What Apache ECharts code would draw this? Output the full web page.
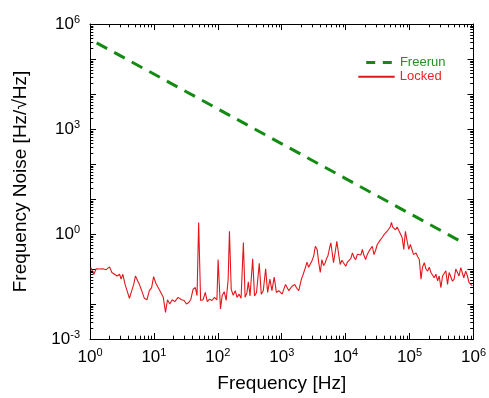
<!DOCTYPE html>
<html><head><meta charset="utf-8">
<script src="https://cdn.jsdelivr.net/npm/echarts@6/dist/echarts.min.js"></script>
<style>html,body{margin:0;padding:0;background:#fff}#c{width:489px;height:398px}</style>
</head><body><div id="c"></div>
<script>
const xTickExponents = [0, 1, 2, 3, 4, 5, 6];
const yTickExponents = [-3, 0, 3, 6];
const freerunFreq = [1.27, 7.48e5];
const freerunNoise = [2.9e5, 0.52];
const lockedFreq = [
  1.03, 1.07, 1.15, 1.25, 1.42, 1.59, 1.79, 2.02, 2.20, 2.42,
  2.66, 2.90, 3.07, 3.26, 3.54, 3.80, 4.14, 4.50, 4.83, 5.14,
  5.58, 5.93, 6.44, 7.09, 7.78, 8.48, 9.21, 9.89, 10.7, 11.4,
  12.4, 14.0, 15.2, 16.3, 17.7, 19.3, 21.2, 23.9, 27.0, 29.7,
  32.3, 35.0, 37.6, 41.0, 44.5, 47.3, 50.1, 53.8, 58.7, 63.7,
  68.4, 74.3, 80.9, 88.8, 96.8, 101, 110, 117, 126, 135,
  145, 152, 162, 174, 187, 200, 215, 231, 251, 267,
  286, 300, 319, 351, 375, 403, 445, 478, 514, 560,
  601, 653, 702, 762, 824, 901, 1014, 1146, 1289, 1435,
  1599, 1718, 1845, 2032, 2168, 2344, 2483, 2638, 2804, 2992,
  3158, 3357, 3580, 3777, 4011, 4249, 4517, 4799, 5027, 5269,
  5600, 5867, 6122, 6461, 6817, 7274, 7727, 8207, 8754, 9242,
  10040, 10670, 11330, 12080, 12760, 13460, 14360, 15260, 16220, 17300,
  18250, 19260, 20540, 21840, 23190, 24740, 26100, 27750, 29590, 31230,
  33190, 35150, 37360, 39690, 42050, 44670, 47130, 49730, 52120, 54430,
  56790, 60100, 63940, 67920, 71920, 76400, 81220, 86040, 91440, 97150,
  102900, 109300, 115400, 126200, 134200, 142000, 150900, 159300, 169900, 180500,
  191900, 203200, 216000, 229400, 243000, 258200, 274600, 290700, 309100, 328400,
  347700, 369400, 392700, 415600, 441800, 469600, 497400, 528600, 562000, 594500,
  632100, 667200, 704200, 756600, 804100, 851800, 903100, 960000
];
const lockedNoise = [
  0.110, 0.120, 0.0708, 0.102, 0.100, 0.102, 0.0955, 0.115, 0.0794, 0.0708,
  0.0631, 0.0708, 0.0513, 0.0708, 0.0363, 0.0398, 0.0145, 0.0240, 0.0363, 0.0631,
  0.0457, 0.0363, 0.0240, 0.0145, 0.0132, 0.0240, 0.0295, 0.0603, 0.0398, 0.0316,
  0.0240, 0.0155, 0.00575, 0.0132, 0.0100, 0.0132, 0.0117, 0.0155, 0.0132, 0.0126,
  0.0100, 0.0110, 0.0132, 0.0263, 0.0295, 0.0174, 2.14, 0.0126, 0.0132, 0.0214,
  0.0117, 0.0138, 0.0126, 0.0155, 0.0132, 0.186, 0.00724, 0.0174, 0.0224, 0.0126,
  0.0501, 1.20, 0.0263, 0.0178, 0.0240, 0.0155, 0.0191, 0.0145, 0.575, 0.0155,
  0.0214, 0.0427, 0.0170, 0.195, 0.0170, 0.0214, 0.145, 0.0191, 0.0240, 0.102,
  0.0214, 0.0513, 0.0240, 0.0589, 0.0214, 0.0240, 0.0191, 0.0363, 0.0240, 0.0316,
  0.0363, 0.0282, 0.0240, 0.0513, 0.0708, 0.110, 0.158, 0.112, 0.120, 0.178,
  0.234, 0.447, 0.363, 0.158, 0.0794, 0.186, 0.126, 0.151, 0.200, 0.234,
  0.398, 0.562, 0.316, 0.151, 0.282, 0.617, 0.282, 0.135, 0.178, 0.151,
  0.120, 0.158, 0.170, 0.200, 0.288, 0.219, 0.186, 0.263, 0.234, 0.251,
  0.363, 0.251, 0.186, 0.263, 0.324, 0.316, 0.447, 0.257, 0.355, 0.501,
  0.562, 0.692, 0.794, 0.955, 1.00, 1.20, 1.12, 1.58, 2.14, 1.58,
  1.66, 1.32, 1.58, 1.26, 1.20, 0.794, 0.363, 1.20, 0.631, 0.363,
  0.501, 0.447, 0.257, 0.288, 0.224, 0.186, 0.0513, 0.112, 0.151, 0.100,
  0.0871, 0.112, 0.0794, 0.0891, 0.0562, 0.0708, 0.0457, 0.0631, 0.0295, 0.0631,
  0.0562, 0.0891, 0.0363, 0.0794, 0.0871, 0.0447, 0.0513, 0.100, 0.110, 0.0631,
  0.110, 0.0794, 0.0562, 0.0871, 0.0631, 0.0407, 0.0447, 0.0331
];

const FONT = 'Liberation Sans, Arial, Helvetica, sans-serif';
const GREEN = '#138b13';
const RED = '#e3161b';

function supLabel(list) {
  return function (value) {
    const e = Math.round(Math.log10(value));
    if (list.indexOf(e) < 0) return '';
    return '{b|10}{s|' + e + '}';
  };
}
const richLabel = {
  b: { fontSize: 17, lineHeight: 20, fontFamily: FONT, color: '#000' },
  s: { fontSize: 11, lineHeight: 8, verticalAlign: 'top', fontFamily: FONT, color: '#000' }
};

const axisLineStyle = { show: true, lineStyle: { color: '#000', width: 1 } };
const majorTick = { show: true, inside: true, length: 6, lineStyle: { color: '#000', width: 1 } };

const chart = echarts.init(document.getElementById('c'), null, { renderer: 'canvas' });

const option = {
  animation: false,
  backgroundColor: '#fff',
  grid: { left: 90, right: 13, top: 24, bottom: 57, containLabel: false },
  legend: [
    {
      data: [{ name: 'Freerun', textStyle: { color: '#1f951f' } }],
      left: 359.7, top: 51, itemWidth: 28.7, itemHeight: 14,
      lineStyle: { type: [9, 7.6], width: 3 },
      itemStyle: { opacity: 0 },
      textStyle: { fontSize: 13, fontFamily: FONT },
      selectedMode: false
    },
    {
      data: [{ name: 'Locked', textStyle: { color: '#e8262a' } }],
      left: 352.3, top: 65.3, itemWidth: 36.4, itemHeight: 14,
      itemStyle: { opacity: 0 },
      textStyle: { fontSize: 13, fontFamily: FONT },
      selectedMode: false
    }
  ],
  xAxis: [
    {
      type: 'log', logBase: 10, min: 1, max: 1e6, interval: 1,
      position: 'bottom',
      name: 'Frequency [Hz]', nameLocation: 'middle', nameGap: 35,
      nameTextStyle: { fontSize: 19, fontFamily: FONT, color: '#000' },
      axisLine: axisLineStyle, axisTick: majorTick,
      axisLabel: { formatter: supLabel(xTickExponents), rich: richLabel, margin: 8 },
      splitLine: { show: false }
    },
    {
      type: 'log', logBase: 10, min: 1, max: 1e6, interval: 1,
      position: 'top',
      axisLine: axisLineStyle, axisTick: majorTick,
      axisLabel: { show: false }, splitLine: { show: false }
    }
  ],
  yAxis: [
    {
      type: 'log', logBase: 10, min: 1e-3, max: 1e6, interval: 1,
      position: 'left',
      name: 'Frequency Noise [Hz/\u221AHz]', nameLocation: 'middle', nameGap: 60,
      nameTextStyle: { fontSize: 19, fontFamily: FONT, color: '#000' },
      axisLine: axisLineStyle, axisTick: majorTick,
      axisLabel: { formatter: supLabel(yTickExponents), rich: richLabel, margin: 10 },
      splitLine: { show: false }
    },
    {
      type: 'log', logBase: 10, min: 1e-3, max: 1e6, interval: 1,
      position: 'right',
      axisLine: axisLineStyle, axisTick: majorTick,
      axisLabel: { show: false }, splitLine: { show: false }
    }
  ],
  series: [
    {
      name: 'Freerun', type: 'line', xAxisIndex: 0, yAxisIndex: 0,
      symbol: 'none', showSymbol: false,
      lineStyle: { color: GREEN, width: 3, type: [12, 8] },
      itemStyle: { color: GREEN },
      data: freerunFreq.map((f, i) => [f, freerunNoise[i]]),
      z: 3
    },
    {
      name: 'Locked', type: 'line', xAxisIndex: 0, yAxisIndex: 0,
      symbol: 'none', showSymbol: false,
      lineStyle: { color: RED, width: 1.1 },
      itemStyle: { color: RED },
      data: lockedFreq.map((f, i) => [f, lockedNoise[i]]),
      z: 2
    },
    {
      type: 'custom', xAxisIndex: 0, yAxisIndex: 0, silent: true,
      data: [[1, 1]],
      renderItem: function (params, api) {
        const children = [];
        const bl = api.coord([1, 1e-3]);
        const tr = api.coord([1e6, 1e6]);
        const left = bl[0], bottom = bl[1], right = tr[0], top = tr[1];
        const L = 3.3;
        const st = { stroke: '#000', lineWidth: 1 };
        for (let k = 0; k < 6; k++) {
          for (let m = 2; m < 10; m++) {
            const x = Math.round(api.coord([m * Math.pow(10, k), 1])[0]) + 0.5;
            children.push({ type: 'line', shape: { x1: x, y1: bottom, x2: x, y2: bottom - L }, style: st });
            children.push({ type: 'line', shape: { x1: x, y1: top, x2: x, y2: top + L }, style: st });
          }
        }
        for (let k = -3; k < 6; k++) {
          for (let m = 2; m < 10; m++) {
            const y = Math.round(api.coord([1, m * Math.pow(10, k)])[1]) + 0.5;
            children.push({ type: 'line', shape: { x1: left, y1: y, x2: left + L, y2: y }, style: st });
            children.push({ type: 'line', shape: { x1: right, y1: y, x2: right - L, y2: y }, style: st });
          }
        }
        return { type: 'group', children: children };
      },
      z: 5
    }
  ]
};
chart.setOption(option);
</script>
</body></html>
